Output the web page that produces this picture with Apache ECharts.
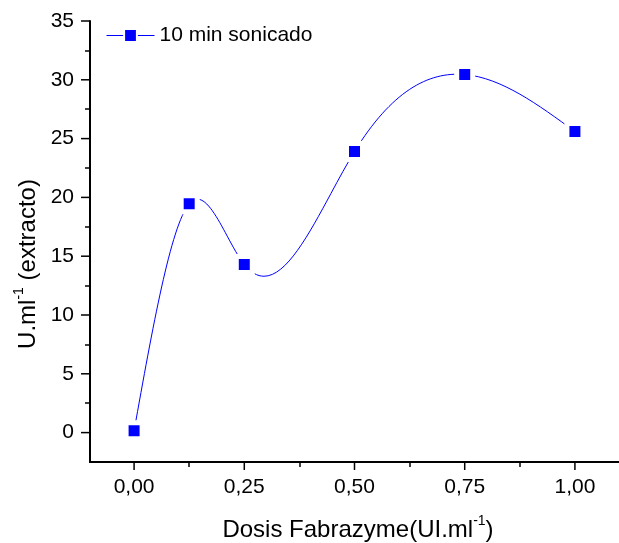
<!DOCTYPE html>
<html>
<head>
<meta charset="utf-8">
<script src="https://cdn.jsdelivr.net/npm/echarts@6/dist/echarts.min.js"></script>
<style>html,body{margin:0;padding:0;background:#fff}#c{width:619px;height:543px}</style>
</head>
<body>
<div id="c"></div>
<script>
const seriesName = '10 min sonicado';
const doses = [0, 0.125, 0.25, 0.5, 0.75, 1.0];
const activity = [0.15, 19.45, 14.3, 23.9, 30.45, 25.6];
const xMajorTicks = [0, 0.25, 0.5, 0.75, 1.0];
const xMinorTicks = [0.125, 0.375, 0.625, 0.875];
const yMajorTicks = [0, 5, 10, 15, 20, 25, 30, 35];
const yMinorTicks = [2.5, 7.5, 12.5, 17.5, 22.5, 27.5, 32.5];
const xTitle = '{a|Dosis Fabrazyme(UI.ml}{s|-1}{a|)}';
const yTitle = '{a|U.ml}{s|-1}{a| (extracto)}';

const FONT = '"Liberation Sans", Arial, sans-serif';
const BLUE = '#0000ff';
const X_MIN = -0.1, X_MAX = 1.1, Y_MIN = -2.5, Y_MAX = 35;
const chart = echarts.init(document.getElementById('c'), null, {renderer: 'canvas'});
const fmtX = v => (+v).toFixed(2).replace('.', ',');

function splineSlopes(x, y) {
  const n = x.length;
  const h = [], a = new Array(n).fill(0), b = new Array(n).fill(0), c = new Array(n).fill(0), d = new Array(n).fill(0);
  for (let i = 0; i < n - 1; i++) h.push(x[i + 1] - x[i]);
  b[0] = 1; d[0] = 0; b[n - 1] = 1; d[n - 1] = 0;
  for (let i = 1; i < n - 1; i++) {
    a[i] = h[i - 1]; b[i] = 2 * (h[i - 1] + h[i]); c[i] = h[i];
    d[i] = 6 * ((y[i + 1] - y[i]) / h[i] - (y[i] - y[i - 1]) / h[i - 1]);
  }
  for (let i = 1; i < n; i++) {
    const w = a[i] / b[i - 1];
    b[i] -= w * c[i - 1]; d[i] -= w * d[i - 1];
  }
  const M = new Array(n);
  M[n - 1] = d[n - 1] / b[n - 1];
  for (let i = n - 2; i >= 0; i--) M[i] = (d[i] - c[i] * M[i + 1]) / b[i];
  const m = [];
  for (let i = 0; i < n; i++) {
    if (i < n - 1) m.push((y[i + 1] - y[i]) / h[i] - h[i] * (2 * M[i] + M[i + 1]) / 6);
    else m.push((y[i] - y[i - 1]) / h[i - 1] + h[i - 1] * (M[i - 1] + 2 * M[i]) / 6);
  }
  return m;
}
const slopes = splineSlopes(doses, activity);

function minorTickAxis(pos, min, max, vals, len) {
  return {
    type: 'value', min: min, max: max, position: pos,
    axisLine: {show: false, onZero: false},
    axisTick: {show: true, length: len, customValues: vals, lineStyle: {color: '#000', width: 1.5}},
    axisLabel: {show: false},
    splitLine: {show: false}
  };
}

chart.setOption({
  animation: false,
  backgroundColor: '#fff',
  grid: {left: 90, top: 21, right: -8, bottom: 81, containLabel: false},
  legend: {
    data: [{name: seriesName, lineStyle: {color: BLUE, width: 1, opacity: 1}}],
    left: 106, top: 25, padding: 0,
    itemWidth: 48, itemHeight: 16, itemGap: 8,
    textStyle: {fontFamily: FONT, fontSize: 21, color: '#000'}
  },
  xAxis: [{
    type: 'value', min: X_MIN, max: X_MAX, position: 'bottom',
    axisLine: {show: true, onZero: false, lineStyle: {color: '#000', width: 2}},
    axisTick: {show: false},
    axisLabel: {customValues: xMajorTicks, formatter: fmtX, margin: 15, fontFamily: FONT, fontSize: 21, color: '#000'},
    splitLine: {show: false}
  },
  minorTickAxis('bottom', X_MIN, X_MAX, xMinorTicks, 5)],
  yAxis: [{
    type: 'value', min: Y_MIN, max: Y_MAX, position: 'left',
    axisLine: {show: true, onZero: false, lineStyle: {color: '#000', width: 2}},
    axisTick: {show: false},
    axisLabel: {customValues: yMajorTicks, margin: 16, fontFamily: FONT, fontSize: 21, color: '#000'},
    splitLine: {show: false}
  },
  minorTickAxis('left', Y_MIN, Y_MAX, yMinorTicks, 5)],
  graphic: [{
    type: 'text', x: 358, y: 542,
    style: {
      text: xTitle, textAlign: 'center', textVerticalAlign: 'bottom',
      rich: {
        a: {fontFamily: FONT, fontSize: 24, fill: '#000', lineHeight: 28, verticalAlign: 'bottom'},
        s: {fontFamily: FONT, fontSize: 14, fill: '#000', lineHeight: 14, verticalAlign: 'top'}
      }
    }
  }, {
    type: 'text', x: 26, y: 264, rotation: Math.PI / 2,
    style: {
      text: yTitle, textAlign: 'center', textVerticalAlign: 'middle',
      rich: {
        a: {fontFamily: FONT, fontSize: 24, fill: '#000', lineHeight: 28, verticalAlign: 'bottom'},
        s: {fontFamily: FONT, fontSize: 14, fill: '#000', lineHeight: 14, verticalAlign: 'top'}
      }
    }
  }],
  series: [{
    name: 'majorTicks',
    type: 'custom',
    xAxisIndex: 0, yAxisIndex: 0,
    data: [[X_MIN, Y_MIN]],
    silent: true, clip: false, z: 1,
    renderItem: function (params, api) {
      const children = [];
      yMajorTicks.forEach(v => {
        const p = api.coord([X_MIN, v]);
        children.push({type: 'line', shape: {x1: p[0] - 9, y1: p[1], x2: p[0], y2: p[1]},
          style: {stroke: '#000', lineWidth: 1.5}});
      });
      xMajorTicks.forEach(v => {
        const p = api.coord([v, Y_MIN]);
        children.push({type: 'line', shape: {x1: p[0], y1: p[1], x2: p[0], y2: p[1] + 8},
          style: {stroke: '#000', lineWidth: 1.5}});
      });
      return {type: 'group', children: children};
    }
  }, {
    name: 'curve',
    type: 'custom',
    xAxisIndex: 0, yAxisIndex: 0,
    data: [[doses[0], activity[0]]],
    silent: true, z: 2,
    renderItem: function (params, api) {
      const p0 = api.coord([doses[0], activity[0]]);
      let path = 'M' + p0[0] + ' ' + p0[1];
      for (let i = 0; i < doses.length - 1; i++) {
        const h = doses[i + 1] - doses[i];
        const c1 = api.coord([doses[i] + h / 3, activity[i] + slopes[i] * h / 3]);
        const c2 = api.coord([doses[i + 1] - h / 3, activity[i + 1] - slopes[i + 1] * h / 3]);
        const e = api.coord([doses[i + 1], activity[i + 1]]);
        path += ' C' + c1[0] + ' ' + c1[1] + ' ' + c2[0] + ' ' + c2[1] + ' ' + e[0] + ' ' + e[1];
      }
      return {
        type: 'path',
        shape: {pathData: path},
        style: {fill: null, stroke: BLUE, lineWidth: 1}
      };
    }
  }, {
    name: seriesName,
    type: 'line',
    xAxisIndex: 0, yAxisIndex: 0,
    data: doses.map((d, i) => [d, activity[i]]),
    z: 3,
    symbol: 'rect', symbolSize: 16, showSymbol: true,
    lineStyle: {width: 0, opacity: 0},
    itemStyle: {color: BLUE, borderColor: '#fff', borderWidth: 5}
  }]
});
</script>
</body>
</html>
